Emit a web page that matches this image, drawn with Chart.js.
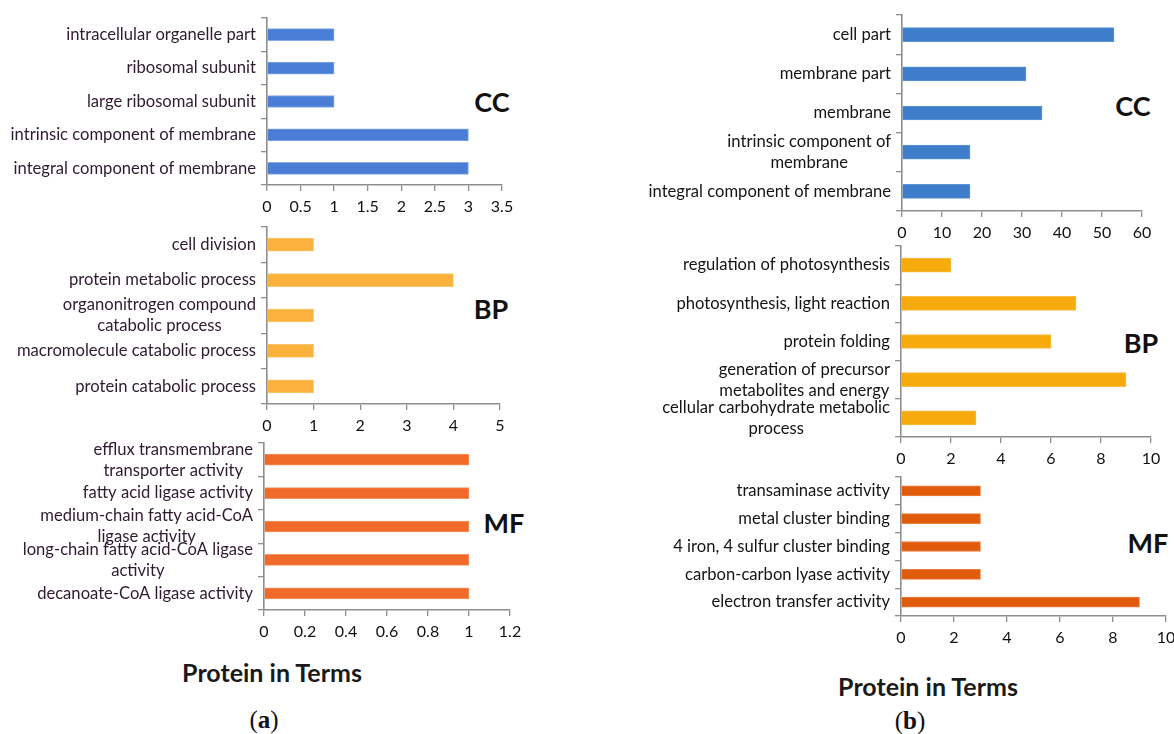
<!DOCTYPE html>
<html>
<head>
<meta charset="utf-8">
<script src="https://cdn.jsdelivr.net/npm/chart.js@4.4.1/dist/chart.umd.min.js"></script>
<style>
  html, body { margin: 0; padding: 0; background: #fff; }
  body { width: 1174px; height: 734px; position: relative; overflow: hidden; font-family: Lato, "Open Sans", sans-serif; }
  .box { position: absolute; }
  .tag { position: absolute; font-weight: 700; font-size: 27px; color: #111; transform: translate(-50%, -50%); white-space: nowrap; line-height: 1; }
  .axt { position: absolute; font-weight: 700; font-size: 25px; color: #1a1a1a; transform: translate(-50%, -50%); white-space: nowrap; line-height: 1; }
  .cap { position: absolute; font-family: "Liberation Serif", "DejaVu Serif", serif; font-size: 25px; color: #111; transform: translate(-50%, -50%); white-space: nowrap; line-height: 1; }
</style>
</head>
<body>
<div class="tag" style="left:492px; top:101px;">CC</div>
<div class="tag" style="left:491px; top:308px;">BP</div>
<div class="tag" style="left:504px; top:522px;">MF</div>
<div class="tag" style="left:1133px; top:105px;">CC</div>
<div class="tag" style="left:1141px; top:342px;">BP</div>
<div class="tag" style="left:1148px; top:542px;">MF</div>
<div class="axt" style="left:272px; top:672px;">Protein in Terms</div>
<div class="axt" style="left:928px; top:686px;">Protein in Terms</div>
<div class="cap" style="left:264px; top:719px;">(<b>a</b>)</div>
<div class="cap" style="left:910px; top:720px;">(<b>b</b>)</div>

<script>
// ---- (a) terms ----
const ccLabelsA = ['intracellular organelle part', 'ribosomal subunit', 'large ribosomal subunit',
                   'intrinsic component of membrane', 'integral component of membrane'];
const ccValuesA = [1, 1, 1, 3, 3];
const ccTicksA  = [0, 0.5, 1, 1.5, 2, 2.5, 3, 3.5];

const bpLabelsA = ['cell division', 'protein metabolic process',
                   ['organonitrogen compound', 'catabolic process'],
                   'macromolecule catabolic process', 'protein catabolic process'];
const bpValuesA = [1, 4, 1, 1, 1];
const bpTicksA  = [0, 1, 2, 3, 4, 5];

const mfLabelsA = [['efflux transmembrane', 'transporter activity'],
                   'fatty acid ligase activity',
                   ['medium-chain fatty acid-CoA', 'ligase activity'],
                   ['long-chain fatty acid-CoA ligase', 'activity'],
                   'decanoate-CoA ligase activity'];
const mfValuesA = [1, 1, 1, 1, 1];
const mfTicksA  = [0, 0.2, 0.4, 0.6, 0.8, 1, 1.2];

// ---- (b) terms ----
const ccLabelsB = ['cell part', 'membrane part', 'membrane',
                   ['intrinsic component of', 'membrane'], 'integral component of membrane'];
const ccValuesB = [53, 31, 35, 17, 17];
const ccTicksB  = [0, 10, 20, 30, 40, 50, 60];

const bpLabelsB = ['regulation of photosynthesis', 'photosynthesis, light reaction', 'protein folding',
                   ['generation of precursor', 'metabolites and energy'],
                   ['cellular carbohydrate metabolic', 'process']];
const bpValuesB = [2, 7, 6, 9, 3];
const bpTicksB  = [0, 2, 4, 6, 8, 10];

const mfLabelsB = ['transaminase activity', 'metal cluster binding', '4 iron, 4 sulfur cluster binding',
                   'carbon-carbon lyase activity', 'electron transfer activity'];
const mfValuesB = [3, 3, 3, 3, 9];
const mfTicksB  = [0, 2, 4, 6, 8, 10];

// Draws the term names left of each bar, multi-line names centred on one another
const termLabels = {
  id: 'termLabels',
  afterDraw(chart, args, opts) {
    const ctx = chart.ctx, ys = chart.scales.y, area = chart.chartArea;
    ctx.save();
    ctx.font = opts.font;
    ctx.fillStyle = opts.color;
    ctx.textBaseline = 'middle';
    ctx.textAlign = 'center';
    chart.data.labels.forEach((lab, i) => {
      const lines = Array.isArray(lab) ? lab : [lab];
      const w = Math.max(...lines.map(s => ctx.measureText(s).width));
      const cx = area.left - opts.gap - w / 2;
      const cy = ys.getPixelForValue(i);
      lines.forEach((s, k) => ctx.fillText(s, cx, cy + (k - (lines.length - 1) / 2) * opts.lineHeight));
    });
    ctx.restore();
  }
};

const AXIS = '#8e8e8e';
const PAD_TOP = 6, PAD_RIGHT = 24, XAXIS_H = 40;

function panel(labels, values, ticks, geo, look) {
  const T = geo.top - PAD_TOP;
  const W = geo.right + PAD_RIGHT - geo.left;
  const H = geo.bottom - T + XAXIS_H;
  const box = document.createElement('div');
  box.className = 'box';
  box.style.left = geo.left + 'px';
  box.style.top = T + 'px';
  box.style.width = W + 'px';
  box.style.height = H + 'px';
  const cv = document.createElement('canvas');
  cv.width = W; cv.height = H;
  cv.style.width = W + 'px'; cv.style.height = H + 'px';
  box.appendChild(cv);
  document.body.appendChild(box);

  new Chart(cv, {
    type: 'bar',
    data: {
      labels: labels,
      datasets: [{
        data: values,
        backgroundColor: look.color,
        borderColor: look.edge,
        borderWidth: 1,
        barThickness: look.thick
      }]
    },
    options: {
      indexAxis: 'y',
      responsive: false,
      maintainAspectRatio: false,
      animation: false,
      devicePixelRatio: 1,
      layout: { padding: { top: PAD_TOP, right: PAD_RIGHT, left: 0, bottom: 0 } },
      plugins: {
        legend: { display: false },
        tooltip: { enabled: false },
        termLabels: { font: '16.6px Lato', color: look.text, gap: 11, lineHeight: 21 }
      },
      scales: {
        x: {
          type: 'linear',
          min: 0,
          max: ticks[ticks.length - 1],
          afterBuildTicks: s => { s.ticks = ticks.map(v => ({ value: v })); },
          afterFit: s => { s.height = XAXIS_H; },
          grid: { drawOnChartArea: false, drawTicks: true, tickLength: 6, color: AXIS, lineWidth: 1.3 },
          border: { color: AXIS, width: 1.6 },
          ticks: {
            font: { family: 'Lato', size: 16 },
            color: '#111',
            padding: 6,
            maxRotation: 0,
            autoSkip: false,
            callback: v => String(v)
          }
        },
        y: {
          type: 'category',
          afterFit: s => { s.width = geo.axisX - geo.left; },
          grid: { drawOnChartArea: false, drawTicks: true, tickLength: 6, color: AXIS, lineWidth: 1.3, offset: true },
          border: { color: AXIS, width: 1.6 },
          ticks: { display: false }
        }
      }
    },
    plugins: [termLabels]
  });
}

const textA = '#301a30', textB = '#141414';

panel(ccLabelsA, ccValuesA, ccTicksA, { left: 0, top: 18, axisX: 267, bottom: 185, right: 502 },
      { color: '#4a7ed6', edge: '#86abe6', thick: 12, text: textA });
panel(bpLabelsA, bpValuesA, bpTicksA, { left: 0, top: 227, axisX: 267, bottom: 404, right: 500 },
      { color: '#fbb23c', edge: '#fcc66e', thick: 13, text: textA });
panel(mfLabelsA, mfValuesA, mfTicksA, { left: 0, top: 443, axisX: 264, bottom: 610, right: 510 },
      { color: '#f06a2a', edge: '#f59566', thick: 11, text: textA });

panel(ccLabelsB, ccValuesB, ccTicksB, { left: 590, top: 15, axisX: 902, bottom: 211, right: 1142 },
      { color: '#3d7dca', edge: '#5e95d6', thick: 14, text: textB });
panel(bpLabelsB, bpValuesB, bpTicksB, { left: 590, top: 246, axisX: 901, bottom: 437, right: 1151 },
      { color: '#f6aa0c', edge: '#f8bd44', thick: 14, text: textB });
panel(mfLabelsB, mfValuesB, mfTicksB, { left: 590, top: 477, axisX: 901, bottom: 616, right: 1166 },
      { color: '#e05c0c', edge: '#e8803f', thick: 10, text: textB });
</script>
</body>
</html>
